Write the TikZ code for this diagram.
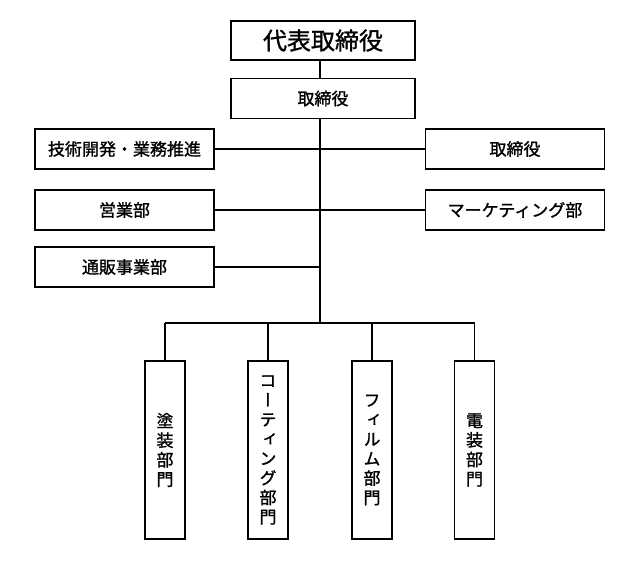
\documentclass[tikz,border=0pt]{standalone}
\usepackage{fontspec}
\newfontfamily\cjk{Noto Sans CJK JP}[FakeBold=1.2]
\newfontfamily\cjkv{Noto Sans CJK JP}[RawFeature=+vert,FakeBold=1.2]
\begin{document}
\begin{tikzpicture}[x=1pt,y=-1pt,
  box/.style={draw,line width=1.8pt,rectangle,inner sep=0pt,font=\cjk\fontsize{17}{20}\selectfont},
  hbox/.style={box,minimum width=179pt,minimum height=40pt},
  vbox/.style={box,minimum width=40pt,minimum height=178pt,align=center,font=\cjkv\fontsize{17}{19.5}\selectfont},
  link/.style={line width=1.8pt}]
\useasboundingbox (0,0) rectangle (640,560);
\fill[white] (0,0) rectangle (640,560);
\node[box,minimum width=184pt,minimum height=39pt,font=\cjk\fontsize{24}{28}\selectfont] (ceo) at (323,40.5) {代表取締役};
\node[box,minimum width=184pt,minimum height=40pt] (dir) at (323,98.5) {取締役};
\node[hbox] (l1) at (124.5,149) {技術開発・業務推進};
\node[hbox] (l2) at (124.5,210) {営業部};
\node[hbox] (l3) at (124.5,267) {通販事業部};
\node[hbox] (r1) at (515,149) {取締役};
\node[hbox] (r2) at (515,210) {マーケティング部};
\node[vbox] (b1) at (165,450) {塗\\装\\部\\門};
\node[vbox] (b2) at (268,450) {コ\\ー\\テ\\ィ\\ン\\グ\\部\\門};
\node[vbox] (b3) at (372,450) {フ\\ィ\\ル\\ム\\部\\門};
\node[vbox] (b4) at (474.5,450) {電\\装\\部\\門};
\coordinate (tx) at (320,0);
\coordinate (bus) at (320,323);
\draw[link] (ceo.south -| tx) -- (dir.north -| tx);
\draw[link] (dir.south -| tx) -- (bus);
\foreach \n in {l1,l2,l3} \draw[link] (\n.east) -- (\n.east -| tx);
\foreach \n in {r1,r2} \draw[link] (\n.west) -- (\n.west -| tx);
\draw[link] (bus -| b1) -- (bus -| b4);
\foreach \n in {b1,b2,b3,b4} \draw[link] (bus -| \n) -- (\n.north);
\end{tikzpicture}
\end{document}
